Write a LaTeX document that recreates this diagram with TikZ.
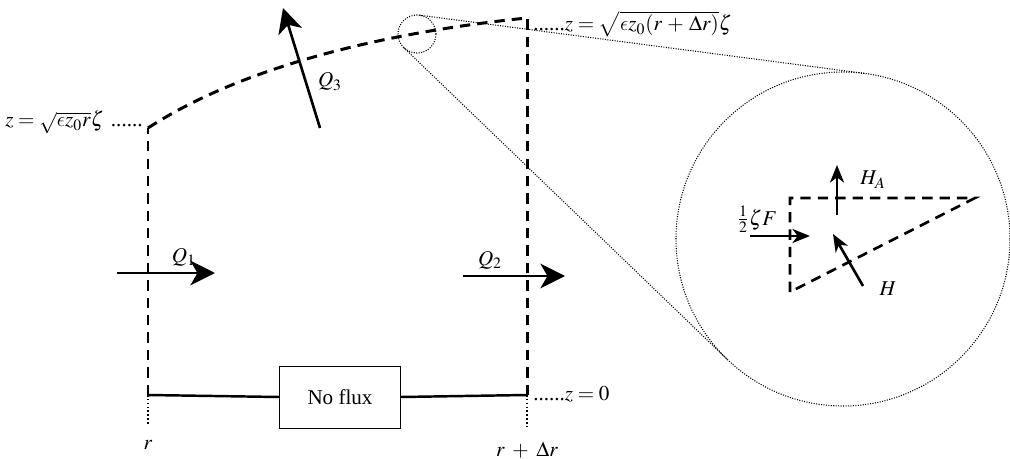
\documentclass[tikz,border=0pt]{standalone}
\usepackage{mathptmx}
\usepackage{fontspec}
\setmainfont{Liberation Serif}
\usetikzlibrary{arrows.meta, calc}
\DeclareSymbolFont{cmletters}{OML}{cmm}{m}{it}
\DeclareMathSymbol{\leps}{\mathord}{cmletters}{"0F}

\begin{document}
\begin{tikzpicture}[
    x=0.02cm, y=0.02cm,
    font=\fontsize{12}{14}\selectfont,
    wall/.style={line width=1.7pt, dash pattern=on 5.9pt off 4pt},
    tick/.style={line width=1.2pt, dash pattern=on 0.9pt off 1.3pt},
    fine/.style={line width=0.6pt, dash pattern=on 0.6pt off 0.8pt},
    flux/.style={-{Stealth[length=14pt, width=14pt, inset=4pt]}, line width=1.5pt},
    force/.style={-{Stealth[length=10pt, width=8pt, inset=3pt]}, line width=1.5pt},
    lbl/.style={anchor=base, inner sep=0pt}
  ]
  \useasboundingbox (0,0) rectangle (1010,-459);
  % corners of the cell
  \coordinate (lb) at (148,-395);
  \coordinate (lt) at (148,-128);
  \coordinate (rb) at (527,-395);
  \coordinate (rt) at (527,-18);
  \coordinate (lf) at (148,-425);
  \coordinate (rf) at (527,-427);
  \node[draw, line width=0.5pt, minimum width=2.42cm, minimum height=1.24cm] (nf) at (340,-397) {No flux};
  \draw[line width=1.4pt] (lb) -- (nf.west) (nf.east) -- (rb);
  \draw[wall] (lb) -- (lt);
  \draw[wall] (rb) -- (rt);
  \draw[wall] (lt) .. controls (248,-63) and (397,-31) .. (rt);
  \draw[tick] (lb) -- (lf);
  \draw[tick] (rb) -- (rf);
  % labels
  \node[lbl] (r) at (148,-449) {$r$};
  \node[lbl] (rdr) at (527,-456) {$r\;+\;\Delta r$};
  \node[lbl, anchor=base west] (ztop1) at (5,-127) {$z=\sqrt{\leps z_0 r}\zeta$\hspace{4pt}......};
  \node[lbl, anchor=base west] (ztop2) at (533,-31) {......$z=\sqrt{\leps z_0(r\,+\,\Delta r)}\zeta$};
  \node[lbl, anchor=base west] (zbot) at (533,-400) {......$z=0$};
  % fluxes
  \coordinate (q1a) at (117,-273);
  \coordinate (q1b) at (215,-273);
  \coordinate (q2a) at (463,-276);
  \coordinate (q2b) at (565,-276);
  \coordinate (q3a) at (320,-128);
  \coordinate (q3b) at (283,-8);
  \draw[flux] (q1a) -- (q1b);
  \draw[flux] (q2a) -- (q2b);
  \draw[flux] (q3a) -- (q3b);
  \node[lbl] (q1) at (184,-262) {$Q_1$};
  \node[lbl] (q2) at (490,-265) {$Q_2$};
  \node[lbl] (q3) at (330,-87) {$Q_3$};
  % zoom
  \coordinate (zs) at (417,-34);
  \coordinate (zb) at (843,-239);
  \draw[fine] (zs) circle (19);
  \draw[fine] (zb) circle (167);
  \draw[fine] ($(zs)+(82.5:19)$) -- ($(zb)+(82.5:167)$);
  \draw[fine] ($(zs)+(226.1:19)$) -- ($(zb)+(226.1:167)$);
  % element inside the zoom
  \coordinate (ta) at (790,-198);
  \coordinate (tb) at (975,-198);
  \coordinate (tc) at (790,-292);
  \draw[wall, line width=1.5pt] (tc) -- (ta) -- (tb) -- (tc);
  \coordinate (ha) at (837,-215);
  \coordinate (hb) at (837,-165);
  \coordinate (fa) at (750,-236);
  \coordinate (fb) at (810,-236);
  \coordinate (h1) at (863,-286);
  \coordinate (h2) at (833,-234);
  \draw[force] (ha) -- (hb);
  \draw[force] (fa) -- (fb);
  \draw[force] (h1) -- (h2);
  \node[lbl] (hA) at (873,-185) {$H_A$};
  \node[lbl] (hh) at (888,-295) {$H$};
  \node[lbl] (ff) at (757,-225) {$\frac{1}{2}\zeta F$};
\end{tikzpicture}
\end{document}
